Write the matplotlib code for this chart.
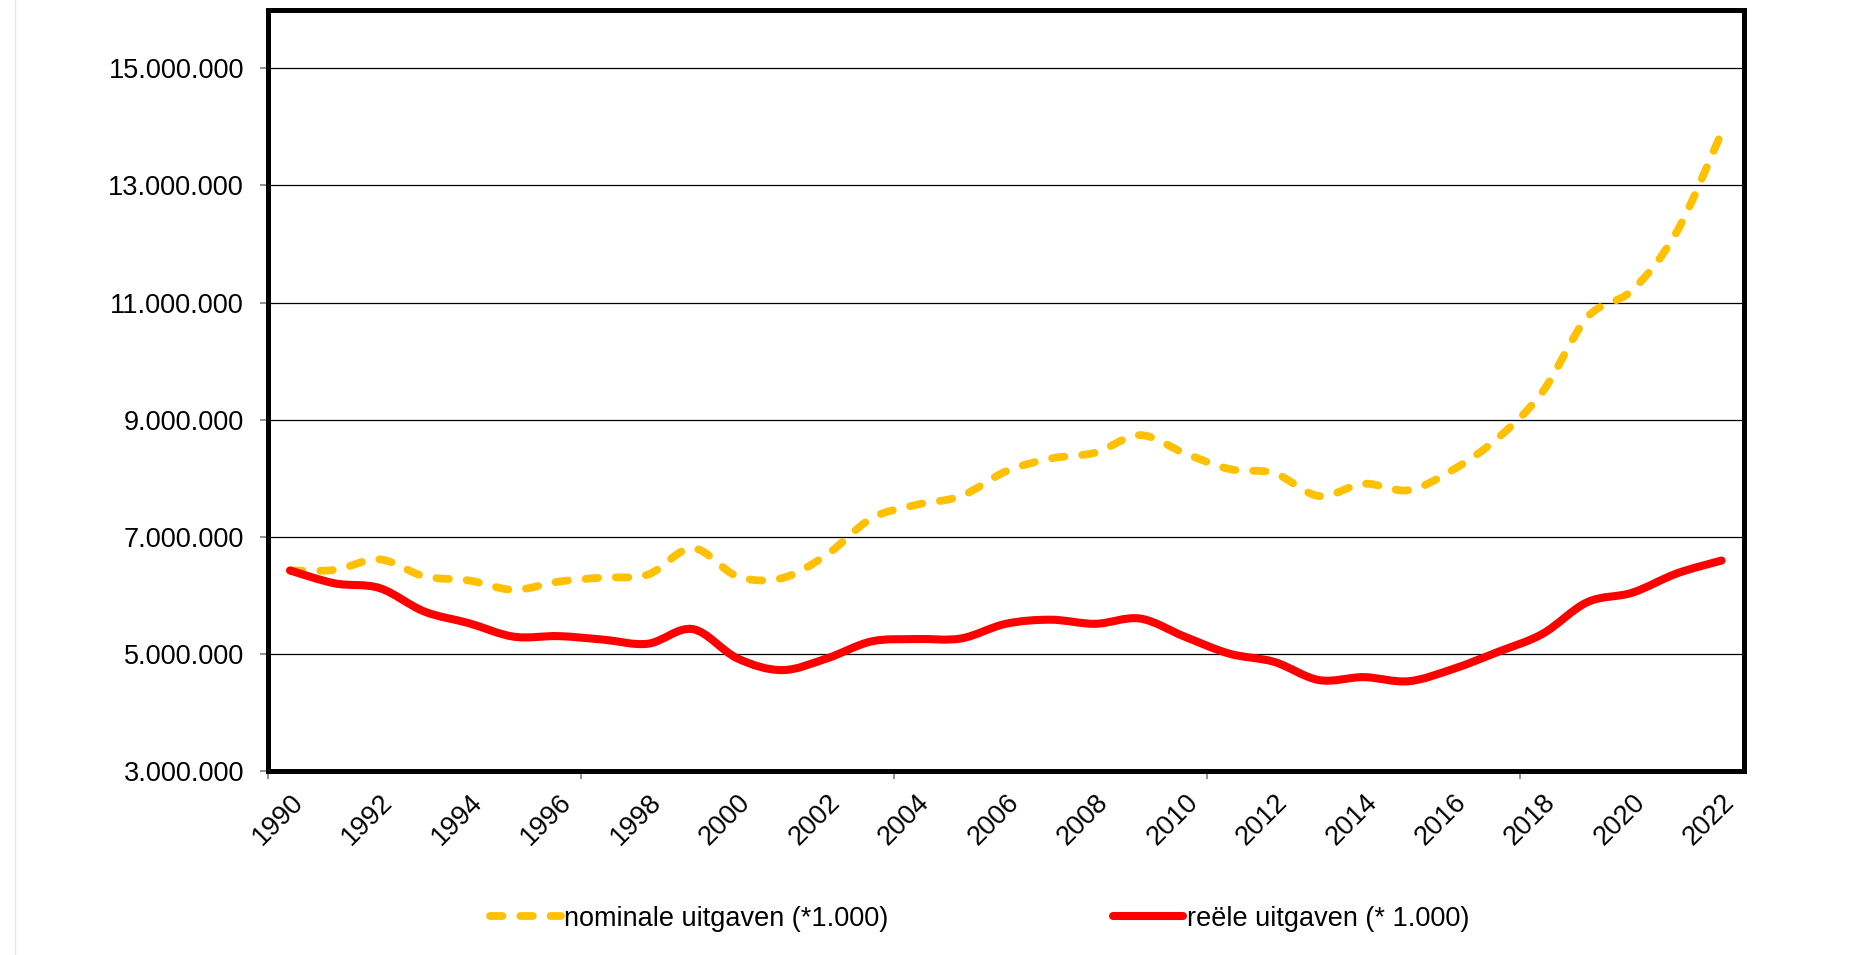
import matplotlib
matplotlib.use("Agg")
import matplotlib.pyplot as plt
from matplotlib.path import Path
from matplotlib.patches import PathPatch, Rectangle
from matplotlib.lines import Line2D
from matplotlib.ticker import FixedLocator, FuncFormatter
import numpy as np

# ---- data ----
years = list(range(1990, 2023))
nominal = [6.43, 6.44, 6.62, 6.33, 6.26, 6.10, 6.24, 6.31, 6.36, 6.81,
           6.33, 6.30, 6.70, 7.32, 7.55, 7.70, 8.12, 8.34, 8.44, 8.74,
           8.43, 8.16, 8.09, 7.70, 7.91, 7.80, 8.15, 8.69, 9.48, 10.75,
           11.21, 12.21, 13.90]
real = [6.43, 6.21, 6.13, 5.73, 5.53, 5.30, 5.31, 5.25, 5.18, 5.43,
        4.93, 4.73, 4.93, 5.22, 5.26, 5.27, 5.52, 5.59, 5.52, 5.61,
        5.30, 5.01, 4.87, 4.56, 4.61, 4.54, 4.75, 5.04, 5.35, 5.89,
        6.05, 6.38, 6.60]
nominal = [v * 1e6 for v in nominal]
real = [v * 1e6 for v in real]
label_nominal = "nominale uitgaven (*1.000)"
label_real = "reële uitgaven (* 1.000)"
ytick_values = list(range(3_000_000, 15_000_001, 2_000_000))
xtick_labels = list(range(1990, 2023, 2))

plt.rcParams['font.family'] = ['Liberation Sans', 'DejaVu Sans']
plt.rcParams['lines.scale_dashes'] = False

YELLOW = '#FFC000'
RED = '#FF0000'
FS = 19.5

fig = plt.figure(figsize=(18.73, 9.55), dpi=100)
ax = fig.add_axes([0.1429, 0.19215, 0.7882, 0.7978])


def smooth_path(xs, ys, t=1/6):
    pts = np.column_stack([xs, ys]).astype(float)
    n = len(pts)
    verts = [tuple(pts[0])]
    codes = [Path.MOVETO]
    for i in range(n - 1):
        p0 = pts[i - 1] if i > 0 else pts[i]
        p1 = pts[i]
        p2 = pts[i + 1]
        p3 = pts[i + 2] if i + 2 < n else pts[i + 1]
        c1 = p1 + (p2 - p0) * t
        c2 = p2 - (p3 - p1) * t
        verts += [tuple(c1), tuple(c2), tuple(p2)]
        codes += [Path.CURVE4] * 3
    return Path(verts, codes)


lw_y = 5.6
lw_r = 5.8
dash = (0, (9.0, 12.8))

p_nom = PathPatch(smooth_path(years, nominal), fill=False, edgecolor=YELLOW,
                  lw=lw_y, linestyle=dash, capstyle='round', joinstyle='round',
                  zorder=3)
p_real = PathPatch(smooth_path(years, real), fill=False, edgecolor=RED,
                   lw=lw_r, capstyle='round', joinstyle='round', zorder=4)
ax.add_patch(p_nom)
ax.add_patch(p_real)

ax.set_xlim(1989.5, 2022.5)
ax.set_ylim(3_000_000, 16_000_000)

# y axis
ax.yaxis.set_major_locator(FixedLocator(ytick_values))
ax.yaxis.set_major_formatter(FuncFormatter(lambda v, p: f"{int(round(v)):,}".replace(',', '.')))
ax.tick_params(axis='y', which='major', direction='out', length=6, width=1.2,
               color='#7f7f7f', pad=11, labelsize=FS)
ax.yaxis.grid(True, color='black', lw=0.9)
ax.set_axisbelow(True)

# x axis: labels every 2 years, tick marks every 7 categories
ax.xaxis.set_major_locator(FixedLocator(xtick_labels))
ax.set_xticklabels([str(y) for y in xtick_labels], rotation=45, ha='right',
                   rotation_mode='anchor')
ax.tick_params(axis='x', which='major', length=0, pad=13, labelsize=FS)
ax.xaxis.set_minor_locator(FixedLocator([1989.5 + 7 * k for k in range(5)]))
ax.tick_params(axis='x', which='minor', direction='out', length=6, width=1.2,
               color='#7f7f7f')

for s in ax.spines.values():
    s.set_visible(False)
frame = Rectangle((0, 0), 1, 1, transform=ax.transAxes, fill=False,
                  edgecolor='black', lw=3.6, joinstyle='miter', clip_on=False,
                  zorder=6)
ax.add_patch(frame)

# legend
h1 = Line2D([], [], color=YELLOW, lw=lw_y, linestyle=dash, dash_capstyle='round')
h2 = Line2D([], [], color=RED, lw=lw_r, solid_capstyle='round')
fig.legend([h1, h2], [label_nominal, label_real], loc='center',
           bbox_to_anchor=(0.523, 0.038), ncol=2, frameon=False,
           handlelength=2.6, handletextpad=0.12, columnspacing=8.3, fontsize=FS)

# light blue slide edge at left
fig.add_artist(Line2D([14.5 / 1873] * 2, [0, 1], transform=fig.transFigure,
                      color='#d4eaf7', lw=1))

fig.savefig("out.png", dpi=100)
